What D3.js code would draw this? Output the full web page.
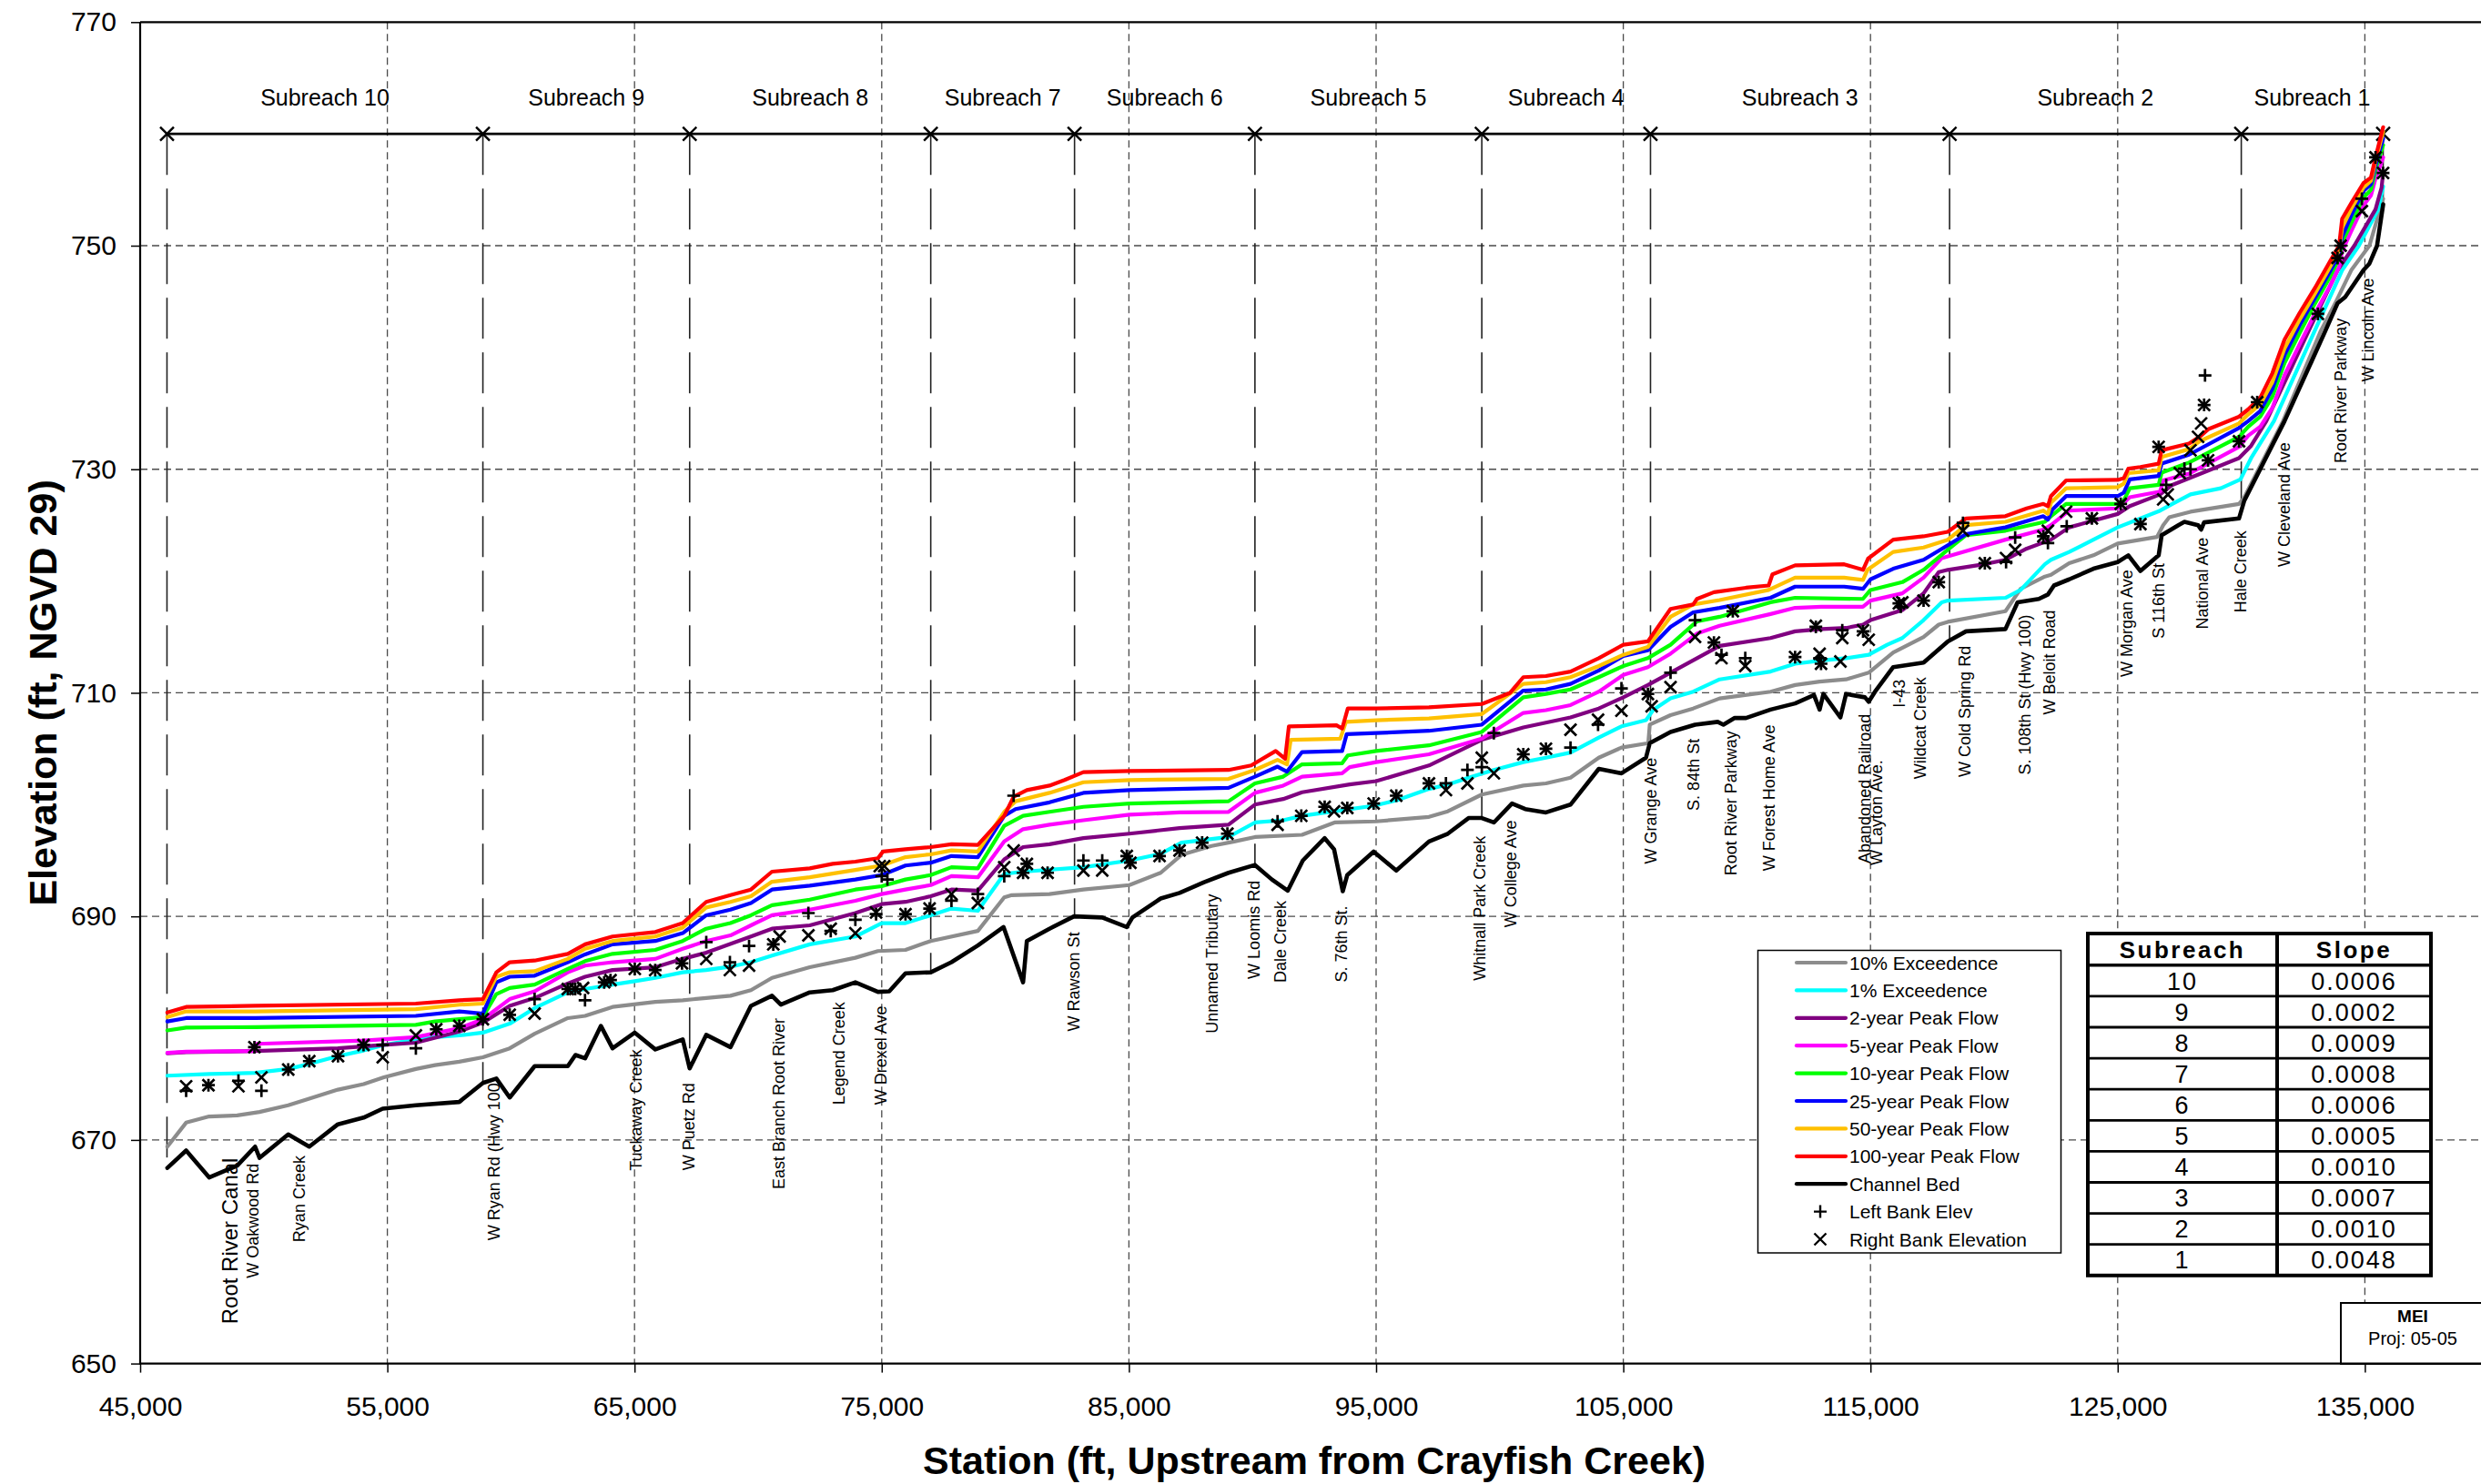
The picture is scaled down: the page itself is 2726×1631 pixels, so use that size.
<!DOCTYPE html>
<html>
<head>
<meta charset="utf-8">
<script src="https://d3js.org/d3.v7.min.js"></script>
<style>
  html, body { margin: 0; padding: 0; background: #fff; }
  svg { display: block; font-family: "Liberation Sans", Arial, Helvetica, sans-serif; }
</style>
</head>
<body>
<svg id="chart" width="2726" height="1631"></svg>
<script>
// ---- Axis ticks ----
const stationTicks = d3.range(45000, 135001, 10000);
const elevTicks = d3.range(650, 771, 20);

// ---- Water surface profiles: [station (ft), elevation (ft)] ----
const exceed10 = [[46100,669.4],[46860,671.55],[47790,672.1],[48925,672.2],[49830,672.5],[50990,673.1],[51840,673.7],[53000,674.5],[54040,675.0],[54860,675.6],[56150,676.35],[56930,676.7],[57910,677.0],[58865,677.4],[59950,678.2],[60960,679.5],[62300,680.9],[63000,681.1],[64110,681.9],[65840,682.35],[66950,682.5],[67900,682.7],[68880,682.9],[69710,683.4],[70560,684.5],[72090,685.45],[73933,686.3],[74848,686.9],[75961,687.0],[76983,687.8],[78889,688.7],[79956,691.7],[80261,691.9],[81786,692.0],[83159,692.4],[85019,692.8],[86285,693.9],[87124,695.5],[88344,696.3],[89259,696.7],[90098,697.1],[92004,697.3],[93320,698.4],[95000,698.5],[97138,698.9],[97901,699.4],[99276,700.9],[100955,701.7],[101871,701.9],[102864,702.4],[104009,704.2],[104925,705.1],[106010,705.5],[106071,707.15],[106911,708.0],[107827,708.6],[108896,709.5],[110957,710.1],[111950,710.7],[112942,711.0],[114011,711.2],[114928,711.8],[115920,713.6],[117147,715.0],[117761,716.1],[118129,716.35],[120460,717.3],[121074,719.3],[122055,720.4],[122301,720.55],[123037,721.6],[124018,722.3],[125000,723.35],[126595,723.95],[126841,725.0],[127086,725.7],[127945,726.2],[129908,726.9],[130100,727.4],[131688,734.3],[133222,742.4],[133835,745.0],[134448,747.8],[135184,750.0],[135740,754.2]];

const exceed1 = [[46100,675.75],[47790,675.9],[49650,676.0],[50990,676.35],[51840,676.8],[53000,677.5],[54040,678.0],[54860,678.5],[56150,679.0],[56930,679.2],[57910,679.35],[58865,679.6],[59950,680.4],[60960,681.8],[62300,683.2],[63000,683.5],[64110,683.9],[65010,684.2],[65840,684.5],[66950,685.0],[67900,685.2],[68880,685.5],[69710,685.9],[70560,686.5],[72090,687.5],[73933,688.2],[75000,689.4],[75961,689.4],[76983,690.1],[77821,690.7],[78889,690.5],[79956,693.8],[80719,694.0],[83159,694.4],[85019,695.0],[86285,695.6],[87124,696.6],[89030,697.1],[90098,698.4],[91242,698.6],[92004,699.0],[93320,699.4],[94924,699.9],[95840,700.4],[97138,701.4],[97901,701.8],[98741,702.4],[99764,703.1],[100955,703.8],[101871,704.2],[102864,704.65],[104009,706.0],[104925,707.0],[105918,707.55],[106224,708.5],[106911,709.5],[107827,710.1],[108896,711.2],[110957,711.9],[111950,712.6],[113019,712.9],[114011,713.1],[114928,713.4],[115675,714.3],[116288,714.9],[117147,716.5],[117883,718.1],[118129,718.25],[120460,718.5],[121074,719.2],[122055,721.5],[122301,721.9],[123037,722.6],[124018,723.7],[125000,724.8],[126718,726.3],[127209,726.9],[127945,727.75],[129172,728.3],[129970,729.1],[130398,731.0],[131320,734.3],[132975,742.4],[134080,747.8],[134757,750.0],[135553,753.3],[135740,755.3]];

const peak2 = [[46100,677.75],[46860,677.85],[49650,677.95],[53000,678.2],[54860,678.5],[56150,678.7],[57910,679.7],[58865,680.5],[59950,682.0],[60960,682.7],[62300,684.0],[63000,684.6],[64110,685.2],[65840,685.45],[66950,686.2],[67900,686.75],[69710,688.2],[70560,688.9],[72090,689.2],[73933,690.3],[75000,691.1],[75961,691.3],[76983,691.8],[77821,692.4],[78889,692.3],[79956,695.1],[80719,696.2],[81786,696.45],[83159,697.0],[85019,697.4],[87048,697.9],[89030,698.2],[90098,700.0],[91242,700.5],[92004,701.1],[93931,701.8],[95000,702.1],[97138,703.5],[99276,705.8],[100955,706.9],[102864,707.8],[104009,708.6],[105002,709.6],[105995,710.7],[108896,714.2],[110957,714.9],[111950,715.5],[113019,715.7],[114011,715.8],[114698,716.1],[115000,716.5],[116288,717.4],[117147,718.9],[117761,720.8],[118129,721.0],[119601,721.5],[120460,721.9],[121319,722.9],[122301,723.7],[123037,724.8],[125000,726.0],[125490,726.7],[126718,727.75],[127209,728.6],[128681,729.9],[129908,731.0],[130398,732.1],[131013,734.3],[132732,742.4],[133896,747.8],[134573,750.0],[135431,753.25],[135677,755.2],[135740,756.6]];

const peak5 = [[46100,677.8],[46860,677.9],[49587,677.95],[49717,678.6],[54057,678.9],[56160,679.2],[57910,680.0],[58865,680.8],[59950,682.6],[60960,683.3],[62300,685.0],[63000,685.6],[64110,685.9],[65840,686.2],[66950,687.1],[67900,687.8],[68880,688.3],[69710,689.2],[70560,690.1],[72090,690.6],[73933,691.4],[75000,692.0],[75961,692.4],[76983,692.8],[77821,693.6],[78889,693.5],[79956,696.7],[80719,697.8],[81786,698.2],[83159,698.6],[85019,699.1],[87048,699.3],[89030,699.35],[90098,701.05],[91242,701.7],[92004,702.5],[93626,702.8],[93931,703.35],[95000,703.8],[97138,704.5],[99276,705.9],[100955,708.2],[101871,708.45],[102864,708.9],[104009,710.1],[105002,711.6],[105995,712.3],[106911,713.5],[107980,715.3],[108896,716.0],[110957,717.05],[111950,717.6],[113019,717.7],[114693,717.7],[115000,718.25],[116288,718.9],[117147,720.3],[117883,722.05],[118129,722.2],[120460,723.7],[121994,724.6],[122301,725.0],[123037,726.3],[125000,726.5],[125490,727.5],[126718,728.0],[126841,729.0],[127884,729.6],[129908,732.0],[130276,733.0],[130766,733.8],[131259,735.5],[131749,738.4],[132364,741.2],[132975,743.9],[133590,746.4],[133958,748.1],[134080,749.5],[134448,751.3],[134941,753.6],[135247,754.5],[135431,756.0],[135740,757.9]];

const peak10 = [[46100,679.8],[46860,680.05],[49650,680.1],[56150,680.3],[56930,680.6],[57910,680.8],[58865,681.0],[59410,683.05],[59950,683.6],[60960,683.9],[62300,685.3],[63000,686.0],[64110,686.65],[65840,687.0],[66950,687.8],[67900,688.9],[68880,689.4],[69710,690.1],[70560,691.0],[72090,691.5],[73933,692.4],[75000,692.7],[75961,693.3],[76983,693.7],[77821,694.4],[78889,694.3],[79956,698.1],[80719,699.0],[81786,699.35],[83159,699.8],[85019,700.1],[87048,700.2],[89030,700.3],[90098,701.9],[91242,702.5],[92004,703.6],[93626,703.7],[93855,704.4],[95000,704.8],[97138,705.3],[99276,706.5],[100955,709.6],[101871,709.9],[102864,710.3],[104009,711.4],[105002,712.4],[105995,713.1],[106911,714.3],[107980,716.4],[108896,716.8],[110957,718.1],[111950,718.5],[114693,718.4],[115000,719.2],[116288,719.9],[117147,721.0],[118129,722.8],[118865,724.1],[120460,724.5],[122055,725.3],[122301,725.8],[122914,726.9],[125000,726.9],[125245,727.2],[125490,728.3],[126657,728.6],[126779,729.7],[127884,730.6],[129908,732.9],[130276,733.8],[130766,734.7],[131259,736.5],[131749,739.5],[132364,742.2],[132975,744.8],[133590,747.2],[133958,748.9],[134080,750.3],[134448,752.0],[134941,754.3],[135247,755.0],[135431,756.8],[135740,759.0]];

const peak25 = [[46100,680.6],[46860,680.9],[49650,680.9],[56150,681.1],[57910,681.5],[58865,681.3],[59410,684.1],[59950,684.6],[60960,684.7],[62300,685.9],[63000,686.6],[64110,687.5],[65840,687.8],[66950,688.5],[67900,690.1],[68880,690.6],[69710,691.2],[70560,692.4],[72090,692.75],[73933,693.3],[75000,693.7],[75961,694.55],[76983,694.8],[77821,695.4],[78889,695.3],[79956,699.0],[80414,699.6],[81786,700.2],[83159,701.05],[85019,701.3],[89030,701.5],[90098,702.5],[91013,703.4],[91394,702.95],[92004,704.7],[93626,704.8],[93809,706.3],[95000,706.4],[97138,706.6],[99276,707.15],[100955,710.2],[101871,710.3],[102864,710.8],[104009,712.0],[105002,713.3],[105995,713.8],[106911,715.9],[107827,717.2],[108896,717.6],[110957,718.5],[111950,719.5],[113935,719.5],[114698,719.3],[115000,720.15],[115920,721.1],[117147,721.9],[118129,723.2],[118865,724.2],[120460,724.8],[121994,725.8],[122178,725.5],[122362,726.4],[122914,727.6],[125000,727.6],[125245,727.9],[125490,729.1],[126657,729.4],[126779,730.5],[127884,731.3],[129908,733.7],[130276,734.3],[130766,735.2],[131259,737.2],[131749,740.2],[132364,742.9],[132975,745.3],[133590,747.7],[133958,749.2],[134080,750.8],[134448,752.7],[134941,754.9],[135247,755.5],[135431,757.2],[135740,759.6]];

const peak50 = [[46100,681.0],[46860,681.5],[49650,681.5],[56150,681.7],[57910,682.1],[58865,682.2],[59410,684.6],[59950,685.0],[60960,685.1],[62300,686.2],[63000,687.1],[64110,687.8],[65840,688.2],[66950,689.0],[67900,690.8],[68880,691.3],[69710,691.8],[70560,693.1],[72090,693.5],[73933,694.15],[75000,694.55],[75961,695.3],[76983,695.55],[77821,695.9],[78889,695.8],[79956,699.35],[80414,700.3],[81786,701.05],[83159,702.0],[85019,702.2],[89030,702.3],[90098,703.1],[91013,704.0],[91394,703.6],[91547,705.8],[93550,705.9],[93779,707.4],[95000,707.55],[97138,707.7],[99276,708.1],[100955,710.8],[101871,710.95],[102864,711.4],[104009,712.4],[105002,713.4],[105995,714.1],[106911,716.8],[107827,717.9],[108896,718.3],[110881,719.2],[111950,720.3],[113935,720.3],[114698,720.1],[114877,721.0],[115920,722.6],[117147,723.0],[118129,723.7],[118865,725.0],[120460,725.3],[121994,726.3],[122178,726.0],[122301,727.0],[122914,728.3],[125000,728.4],[125245,728.7],[125430,729.65],[126657,729.9],[126779,731.1],[127884,731.8],[128313,732.5],[129908,734.1],[130276,734.9],[130766,735.8],[131259,737.8],[131749,740.8],[132364,743.4],[132975,745.7],[133590,748.1],[133958,749.6],[134080,751.6],[134448,753.3],[134941,755.2],[135247,755.8],[135431,757.6],[135740,760.2]];

const peak100 = [[46100,681.4],[46860,681.9],[49650,682.0],[56150,682.2],[57910,682.5],[58865,682.6],[59410,685.0],[59950,685.9],[60960,686.05],[62300,686.65],[63000,687.5],[64110,688.2],[65840,688.6],[66950,689.4],[67900,691.3],[68880,691.9],[69710,692.4],[70560,694.0],[72090,694.3],[73017,694.7],[73933,694.9],[74848,695.2],[75046,695.8],[75961,696.0],[76983,696.2],[77821,696.45],[78889,696.4],[79956,699.0],[80337,700.7],[80871,701.3],[81786,701.7],[82397,702.2],[83159,702.9],[85019,703.0],[89030,703.1],[89946,703.5],[90937,704.8],[91318,704.1],[91471,707.0],[93397,707.1],[93626,706.8],[93855,708.6],[95000,708.6],[97138,708.7],[99276,709.0],[100421,710.0],[100955,711.4],[101871,711.5],[102864,711.9],[104009,713.1],[105002,714.3],[105995,714.6],[106911,717.5],[107827,717.9],[107980,718.4],[108667,719.0],[109965,719.4],[110881,719.6],[111033,720.6],[111950,721.4],[113935,721.5],[114698,721.0],[114900,722.0],[115920,723.7],[117147,724.0],[118129,724.4],[118865,725.6],[120460,725.8],[121319,726.5],[121994,726.9],[122178,726.7],[122301,727.6],[122914,729.0],[125000,729.05],[125245,729.2],[125430,730.05],[125920,730.2],[126657,730.5],[126779,731.7],[127884,732.3],[128313,732.9],[128681,733.6],[129908,734.7],[130276,735.35],[130766,736.4],[131259,738.6],[131749,741.6],[132364,744.0],[132975,746.2],[133590,748.6],[133958,750.0],[134080,752.4],[134448,753.8],[134941,755.6],[135247,756.1],[135431,757.9],[135740,760.6]];

const channelBed = [[46100,667.5],[46860,669.05],[47790,666.65],[48925,667.7],[49650,669.4],[49830,668.4],[50990,670.5],[51840,669.4],[53000,671.4],[54040,672.0],[54810,672.8],[56150,673.1],[57910,673.4],[58865,675.1],[59410,675.5],[59950,673.8],[60960,676.6],[62300,676.6],[62610,677.6],[63000,677.3],[63640,680.2],[64110,678.2],[65010,679.6],[65840,678.1],[66950,679.0],[67230,676.4],[67900,679.4],[68880,678.3],[69710,682.0],[70560,682.9],[70920,682.1],[72090,683.2],[73017,683.4],[73933,684.1],[74848,683.25],[75305,683.3],[75961,684.9],[76983,685.0],[77821,685.9],[78889,687.4],[79926,689.05],[80719,684.1],[80871,687.8],[81786,688.9],[82778,690.0],[83921,689.9],[84913,689.05],[85141,689.9],[86285,691.6],[87048,692.1],[88039,693.05],[89030,693.9],[90098,694.6],[90784,693.3],[91425,692.3],[92035,695.0],[92919,697.0],[93300,696.0],[93651,692.25],[93834,693.7],[94901,695.8],[95816,694.1],[97138,696.7],[97901,697.4],[98741,698.8],[99276,698.8],[99764,698.4],[100497,700.1],[101031,699.6],[101871,699.3],[102864,700.0],[104009,703.2],[104925,702.8],[105918,704.2],[106071,705.5],[106911,706.5],[107903,707.15],[108820,707.4],[109049,707.15],[109507,707.75],[109965,707.75],[110957,708.5],[111950,709.05],[112713,709.8],[112942,708.5],[113095,709.9],[113782,707.8],[114011,709.9],[114775,709.6],[114928,709.2],[115184,710.1],[115920,712.3],[117147,712.7],[118129,714.6],[118865,715.5],[120460,715.7],[120951,718.1],[121810,718.4],[122178,718.8],[122424,719.6],[123037,720.15],[124018,721.1],[125000,721.7],[125430,722.3],[125920,720.9],[126657,722.3],[126779,724.1],[127454,725.0],[127700,725.3],[128252,725.0],[128375,724.6],[128497,725.25],[129908,725.6],[130123,727.2],[131749,734.3],[133406,742.4],[133896,744.85],[134203,745.4],[134941,747.8],[135184,748.4],[135493,750.0],[135740,753.7]];

const seriesNames = ["10% Exceedence", "1% Exceedence", "2-year Peak Flow", "5-year Peak Flow", "10-year Peak Flow", "25-year Peak Flow", "50-year Peak Flow", "100-year Peak Flow", "Channel Bed"];
const seriesColors = ["#8c8c8c", "#00ffff", "#800080", "#ff00ff", "#00ff00", "#0000ff", "#ffc000", "#ff0000", "#000000"];
const seriesData = [exceed10, exceed1, peak2, peak5, peak10, peak25, peak50, peak100, channelBed];

// ---- Surveyed bank elevations ----
const leftBank = [[46860,674.4],[47763,674.9],[48976,675.3],[49622,678.3],[49906,674.4],[50990,676.3],[51842,677.05],[53004,677.5],[54037,678.5],[54812,678.5],[56154,678.2],[56980,679.9],[57910,680.2],[58865,680.8],[59950,681.2],[60957,682.6],[62300,683.5],[62600,683.5],[62997,682.5],[63771,684.1],[64029,684.3],[65010,685.3],[65836,685.2],[66920,685.8],[67902,687.7],[68858,685.9],[69633,687.35],[70613,687.5],[72033,690.3],[72937,688.7],[73933,689.7],[74771,690.2],[75000,693.6],[75230,693.3],[75961,690.2],[76937,690.7],[77821,691.4],[78889,692.0],[79956,693.6],[80337,700.8],[80719,693.9],[80871,694.7],[81710,693.9],[83159,695.0],[83921,695.0],[84913,695.4],[85060,694.8],[86239,695.4],[87048,695.9],[87962,696.6],[88984,697.4],[91013,698.5],[91973,699.0],[92919,699.8],[93834,699.7],[94901,700.1],[95816,700.8],[97138,701.9],[97825,701.9],[98695,703.1],[99276,703.35],[99764,706.4],[100955,704.5],[101871,705.0],[102864,705.1],[103979,707.15],[104925,710.4],[105995,709.9],[106911,711.8],[107903,716.5],[108667,714.5],[108972,713.4],[109430,717.3],[109934,713.1],[111950,713.2],[112790,715.9],[112942,713.1],[113000,712.6],[113859,715.6],[114698,715.5],[116148,718.0],[116227,717.7],[117147,718.25],[117761,719.9],[118742,725.2],[119626,721.6],[120485,721.7],[120853,723.9],[121994,724.0],[122178,723.4],[122939,724.9],[123957,725.6],[125123,726.9],[125920,725.1],[126657,732.0],[126963,728.6],[127700,730.05],[127945,730.0],[128497,735.75],[128534,738.4],[128657,730.8],[129908,732.5],[130645,736.0],[133100,743.9],[133896,748.9],[134020,750.0],[134878,754.2],[135431,757.9],[135737,756.5]];

const rightBank = [[46860,674.8],[47763,674.9],[48976,674.8],[49622,678.3],[49906,675.6],[50990,676.3],[51842,677.05],[53004,677.5],[54037,678.5],[54812,677.4],[56154,679.35],[56980,679.9],[57910,680.2],[58865,680.8],[59950,681.2],[60957,681.3],[62300,683.5],[62600,683.5],[62920,683.6],[63771,684.1],[64029,684.3],[65010,685.3],[65836,685.2],[66920,685.8],[67902,686.2],[68858,685.2],[69633,685.6],[70613,687.5],[70870,688.2],[72033,688.3],[72937,688.9],[73933,688.5],[74771,690.35],[74920,694.5],[75100,694.5],[75961,690.2],[76937,690.7],[77821,692.0],[78889,691.2],[79956,694.4],[80337,695.9],[80719,693.9],[80871,694.7],[81710,693.9],[83159,694.1],[83921,694.1],[84913,695.4],[85060,694.8],[86239,695.4],[87048,695.9],[87962,696.6],[88984,697.4],[91013,698.2],[91973,699.0],[92919,699.8],[93300,699.4],[93834,699.7],[94901,700.1],[95816,700.8],[97138,701.9],[97825,701.3],[98695,701.9],[99276,704.2],[99764,702.8],[100955,704.5],[101871,705.0],[102864,706.7],[103979,707.6],[104925,708.4],[105995,709.9],[106147,708.8],[106911,710.5],[107903,715.0],[108667,714.5],[108972,713.1],[109430,717.3],[109934,712.4],[111950,713.2],[112790,716.0],[112942,713.5],[113000,712.6],[113782,712.8],[113859,714.9],[114698,715.6],[114928,714.75],[116148,718.0],[116288,718.1],[117147,718.25],[117761,719.9],[118742,724.5],[119626,721.6],[120485,722.05],[120853,722.8],[121994,724.0],[122178,724.5],[122914,726.2],[123957,725.6],[125123,726.9],[125920,725.1],[126657,732.0],[126841,727.3],[127025,727.75],[127515,729.65],[127945,731.7],[128252,732.9],[128375,734.1],[128497,735.75],[128657,730.8],[129908,732.5],[130645,736.0],[133100,743.9],[133896,748.9],[134020,750.0],[134878,753.1],[135431,757.9],[135737,756.5]];

// ---- Subreach limits and names ----
const subreachLimits = [46085, 58865, 67230, 76983, 82800, 90098, 99276, 106100, 118200, 130000, 135740];
const subreachNames = ["Subreach 10", "Subreach 9", "Subreach 8", "Subreach 7", "Subreach 6", "Subreach 5", "Subreach 4", "Subreach 3", "Subreach 2", "Subreach 1"];
const subreachElev = 760;

// ---- Crossing and tributary names: [text, station, elevation at top of text] ----
const crossings = [
  ["W Oakwood Rd", 49570, 667.9], ["Ryan Creek", 51429, 668.6], ["W Ryan Rd (Hwy 100", 59304, 675.1],
  ["Tuckaway Creek", 65062, 678.1], ["W Puetz Rd", 67180, 675.1], ["East Branch Root River", 70820, 680.9],
  ["Legend Creek", 73247, 682.35], ["W Drexel Ave", 74952, 682.0], ["W Rawson St", 82778, 688.6],
  ["Unnamed Tributary", 88374, 692.0], ["W Loomis Rd", 90052, 693.2], ["Dale Creek", 91119, 691.4],
  ["S. 76th St.", 93605, 690.95], ["Whitnall Park Creek", 99199, 697.2], ["W College Ave", 100421, 698.6],
  ["W Grange Ave", 106117, 704.2], ["S. 84th St", 107827, 705.9], ["Root River Parkway", 109354, 706.6],
  ["W Forest Home Ave", 110881, 707.15], ["Abandoned Railroad", 114775, 708.1], ["W Layton Ave.", 115233, 704.0],
  ["I-43", 116148, 711.2], ["Wildcat Creek", 117023, 711.4], ["W Cold Spring Rd", 118804, 714.2],
  ["S. 108th St (Hwy 100)", 121233, 717.0], ["W Beloit Road", 122239, 717.4], ["W Morgan Ave", 125368, 721.0],
  ["S 116th St", 126657, 721.6], ["National Ave", 128411, 723.9], ["Hale Creek", 129983, 724.5],
  ["W Cleveland Ave", 131724, 732.4], ["Root River Parkway", 134017, 743.5], ["W Lincoln Ave", 135125, 747.1]
];
const canalLabel = ["Root River Canal", 48615, 668.4];

// ---- Slope table ----
const tableSubreach = ["10", "9", "8", "7", "6", "5", "4", "3", "2", "1"];
const tableSlope = ["0.0006", "0.0002", "0.0009", "0.0008", "0.0006", "0.0005", "0.0010", "0.0007", "0.0010", "0.0048"];

// ================= drawing =================
const svg = d3.select("#chart");
const x = d3.scaleLinear().domain([45000, 140000]).range([154, 2734.2]);
const y = d3.scaleLinear().domain([650, 770]).range([1498.6, 24.3]);

svg.append("rect").attr("width", 2726).attr("height", 1631).attr("fill", "#fff");

// gridlines
const grid = svg.append("g").attr("stroke", "#4a4a4a").attr("stroke-width", 1.3).attr("stroke-dasharray", "8,5");
grid.selectAll("line.v").data(stationTicks.slice(1)).join("line")
  .attr("x1", d => x(d)).attr("x2", d => x(d)).attr("y1", y(770)).attr("y2", y(650));
grid.selectAll("line.h").data(elevTicks.slice(1, -1)).join("line")
  .attr("x1", x(45000)).attr("x2", 2726).attr("y1", d => y(d)).attr("y2", d => y(d));

// subreach limit lines down to channel bed
const bedAt = s => {
  const i = d3.bisector(d => d[0]).left(channelBed, s);
  if (i <= 0) return channelBed[0][1];
  if (i >= channelBed.length) return channelBed[channelBed.length - 1][1];
  const a = channelBed[i - 1], b = channelBed[i];
  return a[1] + (b[1] - a[1]) * (s - a[0]) / (b[0] - a[0]);
};
svg.append("g").attr("stroke", "#222").attr("stroke-width", 1.6).attr("stroke-dasharray", "45,15")
  .selectAll("line").data(subreachLimits).join("line")
  .attr("x1", d => x(d)).attr("x2", d => x(d))
  .attr("y1", y(subreachElev)).attr("y2", d => y(bedAt(d)));

// subreach bar at 760 with limit markers
svg.append("line").attr("x1", x(subreachLimits[0])).attr("x2", x(subreachLimits[subreachLimits.length - 1]))
  .attr("y1", y(subreachElev)).attr("y2", y(subreachElev)).attr("stroke", "#000").attr("stroke-width", 2.6);
svg.append("g").selectAll("path").data(subreachLimits).join("path")
  .attr("transform", d => `translate(${x(d)},${y(subreachElev)})`)
  .attr("d", "M-7.5,-7.5L7.5,7.5M-7.5,7.5L7.5,-7.5").attr("stroke", "#000").attr("stroke-width", 2.4).attr("fill", "none");
svg.append("g").selectAll("text").data(subreachNames).join("text")
  .attr("x", (d, i) => x((subreachLimits[i] + subreachLimits[i + 1]) / 2))
  .attr("y", y(762.5)).attr("text-anchor", "middle").attr("font-size", 25).attr("fill", "#000").text(d => d);

// profiles
const line = d3.line().x(d => x(d[0])).y(d => y(d[1]));
svg.append("g").attr("fill", "none").attr("stroke-linejoin", "round").attr("stroke-linecap", "round")
  .selectAll("path").data(seriesData).join("path")
  .attr("d", line)
  .attr("stroke", (d, i) => seriesColors[i])
  .attr("stroke-width", (d, i) => i === 8 ? 4.6 : 4.2);

// bank markers
const plusPath = "M-7,0H7M0,-7V7";
const crossPath = "M-6.5,-6.5L6.5,6.5M-6.5,6.5L6.5,-6.5";
svg.append("g").selectAll("path").data(leftBank).join("path")
  .attr("transform", d => `translate(${x(d[0])},${y(d[1])})`).attr("d", plusPath)
  .attr("stroke", "#000").attr("stroke-width", 2.7).attr("fill", "none");
svg.append("g").selectAll("path").data(rightBank).join("path")
  .attr("transform", d => `translate(${x(d[0])},${y(d[1])})`).attr("d", crossPath)
  .attr("stroke", "#000").attr("stroke-width", 2.7).attr("fill", "none");

// crossing labels (vertical)
svg.append("g").selectAll("text").data(crossings).join("text")
  .attr("transform", d => `translate(${x(d[1])},${y(d[2])}) rotate(-90)`)
  .attr("text-anchor", "end").attr("dy", "0.35em").attr("font-size", 18).attr("fill", "#000")
  .text(d => d[0]);
svg.append("text")
  .attr("transform", `translate(${x(canalLabel[1])},${y(canalLabel[2])}) rotate(-90)`)
  .attr("text-anchor", "end").attr("dy", "0.35em").attr("font-size", 24).attr("fill", "#000")
  .text(canalLabel[0]);

// legend
const lg = svg.append("g");
lg.append("rect").attr("x", 1931.5).attr("y", 1044.5).attr("width", 333).attr("height", 332.5)
  .attr("fill", "#fff").attr("stroke", "#000").attr("stroke-width", 1.5);
const legendItems = seriesNames.map((n, i) => ({ name: n, color: seriesColors[i], kind: "line" }))
  .concat([{ name: "Left Bank Elev", kind: "plus" }, { name: "Right Bank Elevation", kind: "cross" }]);
const rowY = i => 1058 + i * 30.4;
legendItems.forEach((it, i) => {
  const cy = rowY(i);
  if (it.kind === "line") {
    lg.append("line").attr("x1", 1974).attr("x2", 2028).attr("y1", cy).attr("y2", cy)
      .attr("stroke", it.color).attr("stroke-width", 4.2).attr("stroke-linecap", "round");
  } else {
    lg.append("path").attr("transform", `translate(2000,${cy})`).attr("d", it.kind === "plus" ? plusPath : crossPath)
      .attr("stroke", "#000").attr("stroke-width", 2.4).attr("fill", "none");
  }
  lg.append("text").attr("x", 2032).attr("y", cy).attr("dy", "0.36em").attr("font-size", 21).attr("fill", "#000").text(it.name);
});

// slope table
const tb = svg.append("g");
const tX0 = 2294, tX1 = 2502, tX2 = 2671, tY0 = 1026, hdrH = 34.8, rowH = 34.1;
const tY1 = tY0 + hdrH + rowH * tableSubreach.length;
tb.append("rect").attr("x", tX0).attr("y", tY0).attr("width", tX2 - tX0).attr("height", tY1 - tY0)
  .attr("fill", "#fff").attr("stroke", "#000").attr("stroke-width", 4);
tb.append("line").attr("x1", tX1).attr("x2", tX1).attr("y1", tY0).attr("y2", tY1).attr("stroke", "#000").attr("stroke-width", 4);
tb.selectAll("line.r").data(d3.range(tableSubreach.length)).join("line")
  .attr("x1", tX0).attr("x2", tX2)
  .attr("y1", i => tY0 + hdrH + rowH * i).attr("y2", i => tY0 + hdrH + rowH * i)
  .attr("stroke", "#000").attr("stroke-width", i => i === 0 ? 3.4 : 2.8);
tb.append("text").attr("x", (tX0 + tX1) / 2).attr("y", tY0 + hdrH / 2).attr("dy", "0.36em")
  .attr("text-anchor", "middle").attr("font-size", 26).attr("font-weight", "bold").attr("letter-spacing", 2.5).text("Subreach");
tb.append("text").attr("x", (tX1 + tX2) / 2).attr("y", tY0 + hdrH / 2).attr("dy", "0.36em")
  .attr("text-anchor", "middle").attr("font-size", 26).attr("font-weight", "bold").attr("letter-spacing", 2.5).text("Slope");
tb.selectAll("text.sr").data(tableSubreach).join("text")
  .attr("x", (tX0 + tX1) / 2).attr("y", (d, i) => tY0 + hdrH + rowH * (i + 0.5)).attr("dy", "0.36em")
  .attr("text-anchor", "middle").attr("font-size", 27).attr("letter-spacing", 2).text(d => d);
tb.selectAll("text.sl").data(tableSlope).join("text")
  .attr("x", (tX1 + tX2) / 2).attr("y", (d, i) => tY0 + hdrH + rowH * (i + 0.5)).attr("dy", "0.36em")
  .attr("text-anchor", "middle").attr("font-size", 27).attr("letter-spacing", 2).text(d => d);

// project box
const pb = svg.append("g");
pb.append("rect").attr("x", 2572).attr("y", 1432).attr("width", 200).attr("height", 67)
  .attr("fill", "#fff").attr("stroke", "#000").attr("stroke-width", 2);
pb.append("text").attr("x", 2651).attr("y", 1453).attr("text-anchor", "middle").attr("font-size", 19)
  .attr("font-weight", "bold").text("MEI");
pb.append("text").attr("x", 2651).attr("y", 1478).attr("text-anchor", "middle").attr("font-size", 20).text("Proj: 05-05");

// axes
const yAxis = svg.append("g").attr("transform", `translate(${x(45000)},0)`)
  .call(d3.axisLeft(y).tickValues(elevTicks).tickFormat(d3.format("d")).tickSize(10).tickPadding(16));
const xAxis = svg.append("g").attr("transform", `translate(0,${y(650)})`)
  .call(d3.axisBottom(x).tickValues(stationTicks).tickFormat(d3.format(",")).tickSize(10).tickPadding(26));
[yAxis, xAxis].forEach(a => {
  a.select(".domain").remove();
  a.selectAll(".tick line").attr("stroke", "#000").attr("stroke-width", 1.5);
  a.selectAll(".tick text").attr("font-size", 30).attr("fill", "#000")
    .attr("font-family", "'Liberation Sans', Arial, sans-serif");
});
// plot frame (left, top, bottom)
svg.append("path").attr("d", `M${x(45000)},${y(770)}H2726M${x(45000)},${y(770)}V${y(650)}H2726`)
  .attr("fill", "none").attr("stroke", "#000").attr("stroke-width", 2.2);

// axis titles
svg.append("text").attr("x", (x(45000) + x(140000)) / 2).attr("y", 1620).attr("text-anchor", "middle")
  .attr("font-size", 43).attr("font-weight", "bold").text("Station (ft, Upstream from Crayfish Creek)");
svg.append("text").attr("transform", `translate(62,${(y(650) + y(770)) / 2}) rotate(-90)`).attr("text-anchor", "middle")
  .attr("font-size", 43).attr("font-weight", "bold").text("Elevation (ft, NGVD 29)");
</script>
</body>
</html>
